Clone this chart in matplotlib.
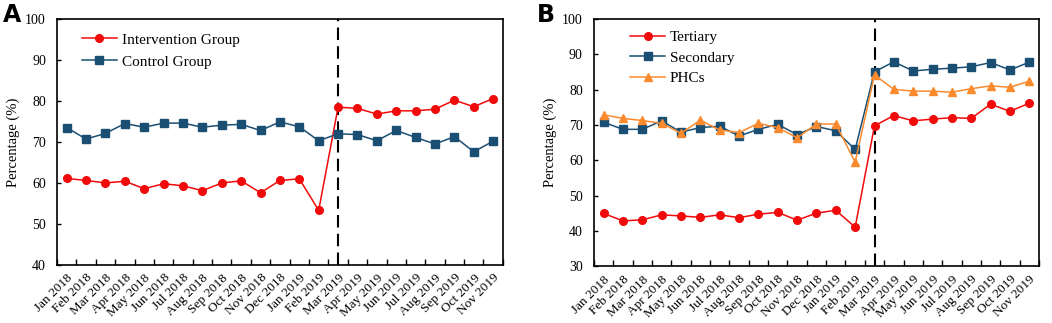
import matplotlib.pyplot as plt
import numpy as np

months = ['Jan 2018', 'Feb 2018', 'Mar 2018', 'Apr 2018', 'May 2018', 'Jun 2018',
          'Jul 2018', 'Aug 2018', 'Sep 2018', 'Oct 2018', 'Nov 2018', 'Dec 2018',
          'Jan 2019', 'Feb 2019', 'Mar 2019', 'Apr 2019', 'May 2019', 'Jun 2019',
          'Jul 2019', 'Aug 2019', 'Sep 2019', 'Oct 2019', 'Nov 2019']

# Panel A
intervention = [61.1, 60.6, 60.0, 60.4, 58.6, 59.8, 59.3, 58.1, 60.0, 60.5, 57.6, 60.6,
                61.0, 53.3, 78.5, 78.2, 76.8, 77.6, 77.6, 78.0, 80.2, 78.6, 80.6]
control = [73.5, 70.7, 72.1, 74.5, 73.6, 74.6, 74.6, 73.6, 74.1, 74.3, 72.8, 74.9,
           73.7, 70.3, 72.0, 71.8, 70.3, 72.8, 71.1, 69.5, 71.3, 67.6, 70.2]

# Panel B
tertiary = [45.0, 42.9, 43.2, 44.6, 44.3, 43.9, 44.6, 43.8, 44.8, 45.3, 43.1, 45.1,
            45.9, 41.1, 69.8, 72.7, 71.2, 71.7, 72.1, 71.9, 75.9, 73.9, 76.2]
secondary = [70.8, 68.8, 68.8, 71.2, 68.0, 69.3, 69.7, 66.9, 68.8, 70.2, 67.3, 69.6,
             68.4, 63.1, 85.1, 87.9, 85.3, 85.8, 86.1, 86.5, 87.7, 85.6, 87.8]
phcs = [72.9, 71.9, 71.3, 70.5, 67.7, 71.4, 68.6, 67.9, 70.5, 69.3, 66.4, 70.3,
        70.3, 59.5, 84.2, 80.1, 79.6, 79.6, 79.3, 80.3, 81.1, 80.7, 82.4]

plt.rcParams['font.family'] = ['Liberation Serif', 'DejaVu Serif']

red = '#f00a0a'
blue = '#1a4f73'
orange = '#fb8a2e'

fig = plt.figure(figsize=(10.52, 3.23), dpi=100)
axA = fig.add_axes([0.0542, 0.18, 0.4238, 0.761])
axB = fig.add_axes([0.5646, 0.175, 0.423, 0.766])

x = np.arange(len(months))


def style(ax, ymin):
    ax.set_xlim(-0.5, len(months) - 0.5)
    ax.set_ylim(ymin, 100)
    ax.set_yticks(np.arange(ymin, 101, 10))
    ax.set_xticks(x)
    ax.set_xticklabels(months, rotation=45, ha='right', rotation_mode='anchor', fontsize=9.5)
    ax.set_xticks(np.arange(len(months) + 1) - 0.5, minor=True)
    ax.tick_params(axis='x', which='major', length=0, pad=5)
    ax.tick_params(axis='x', which='minor', direction='in', length=4, width=1)
    ax.tick_params(axis='y', direction='in', length=3, width=1, labelsize=10, pad=8)
    ax.set_ylabel('Percentage (%)', fontsize=10.5)
    for s in ax.spines.values():
        s.set_linewidth(1.2)
    ax.axvline(14, color='black', linestyle=(0, (6, 3)), linewidth=1.5, zorder=1)


axA.plot(x, intervention, color=red, marker='o', markersize=5.5, linewidth=1.1,
         label='Intervention Group')
axA.plot(x, control, color=blue, marker='s', markersize=5.5, linewidth=1.1,
         label='Control Group')
style(axA, 40)
axA.legend(loc='upper left', bbox_to_anchor=(0.025, 1.0), frameon=False, fontsize=11,
           handlelength=2.3, handletextpad=0.3, labelspacing=0.55)

axB.plot(x, tertiary, color=red, marker='o', markersize=5.5, linewidth=1.1, label='Tertiary')
axB.plot(x, secondary, color=blue, marker='s', markersize=5.5, linewidth=1.1, label='Secondary')
axB.plot(x, phcs, color=orange, marker='^', markersize=5.5, linewidth=1.1, label='PHCs')
style(axB, 30)
axB.legend(loc='upper left', bbox_to_anchor=(0.05, 1.01), frameon=False, fontsize=11,
           handlelength=2.3, handletextpad=0.3, labelspacing=0.45)

fig.text(0.003, 0.99, 'A', fontsize=17, fontweight='bold', family='DejaVu Sans', va='top')
fig.text(0.51, 0.99, 'B', fontsize=17, fontweight='bold', family='DejaVu Sans', va='top')

plt.savefig('out.png', dpi=100)
